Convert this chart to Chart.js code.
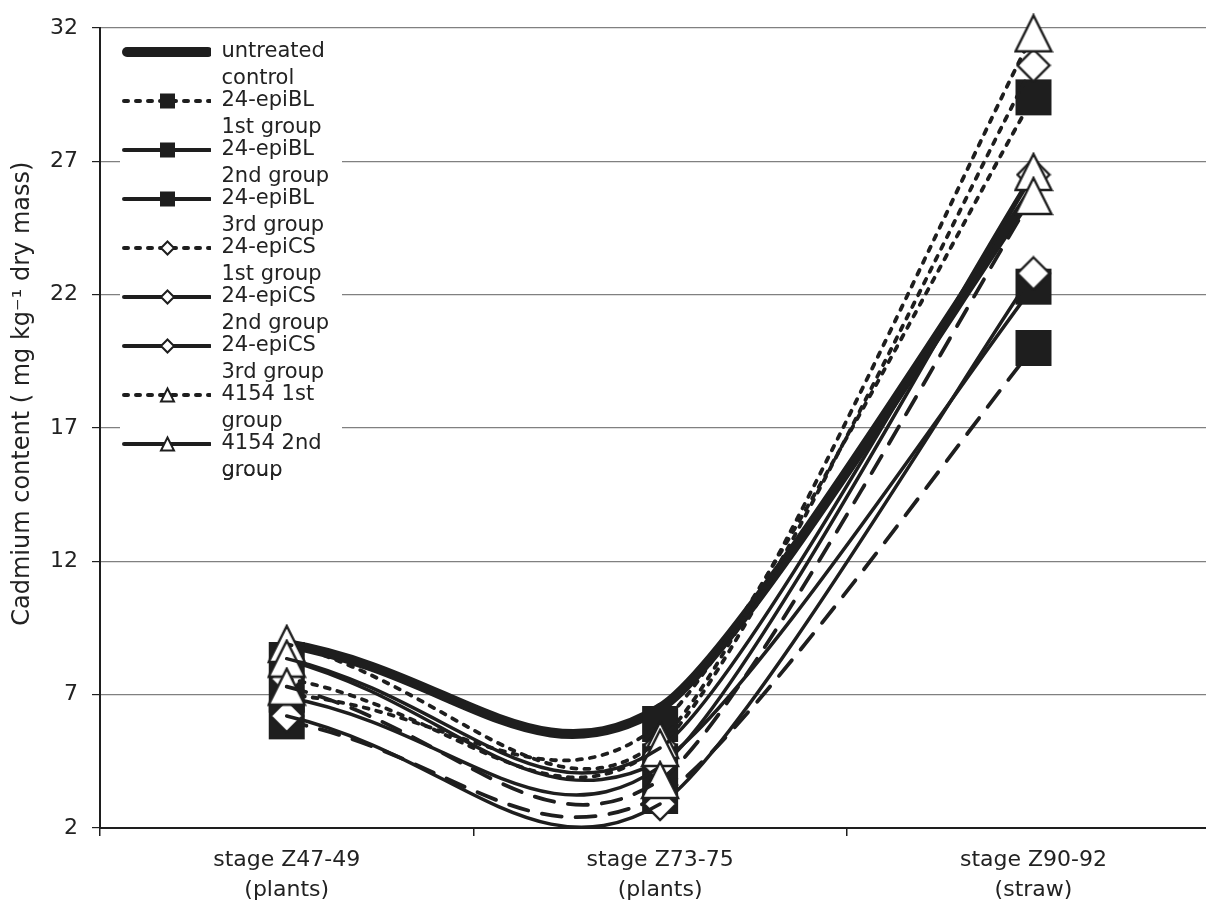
<!DOCTYPE html>
<html><head><meta charset="utf-8">
<script src="https://cdn.jsdelivr.net/npm/chart.js@4.4.1/dist/chart.umd.min.js"></script>
<style>
html,body{margin:0;padding:0;background:#fff;overflow:hidden;width:1206px;height:903px}
#wrap{width:1242px;height:903px;position:relative}
</style></head>
<body><div id="wrap"><canvas id="c" width="1242" height="903"></canvas></div>
<script>
// ---- data ----
const categories = [["stage Z47-49","(plants)"],["stage Z73-75","(plants)"],["stage Z90-92","(straw)"]];
const seriesNames = [
  ["untreated","control"],["24-epiBL","1st group"],["24-epiBL","2nd group"],["24-epiBL","3rd group"],
  ["24-epiCS","1st group"],["24-epiCS","2nd group"],["24-epiCS","3rd group"],
  ["4154 1st","group"],["4154 2nd","group"],["4154 3rd","group"]
];
const untreated = [8.9, 6.5, 25.9];
const epiBL1 = [7.0, 5.9, 29.4];
const epiBL2 = [8.3, 4.5, 22.3];
const epiBL3 = [6.0, 3.2, 20.0];
const epiCS1 = [7.6, 5.1, 30.6];
const epiCS2 = [6.9, 4.3, 26.5];
const epiCS3 = [6.2, 2.9, 22.8];
const g4154a = [8.9, 5.3, 31.8];
const g4154b = [8.35, 5.0, 26.6];
const g4154c = [7.3, 3.8, 25.7];
const yTicks = [2, 7, 12, 17, 22, 27, 32];
const yTitle = '         Cadmium content ( mg kg⁻¹ dry mass)';
const legendCount = 9; // legend in the original is cut after the 9th entry

// ---- styles ----
const seriesValues = [untreated, epiBL1, epiBL2, epiBL3, epiCS1, epiCS2, epiCS3, g4154a, g4154b, g4154c];
const seriesLine = ['thick','short','solid','long','short','solid','solid','short','solid','long'];
const seriesMarker = [null,'square','square','square','diamond','diamond','diamond','triangle','triangle','triangle'];
const legendLine = ['thick','short','solid','solid','short','solid','solid','short','solid','solid'];
const INK = '#1e1e1e';
const FONT = "'DejaVu Sans', sans-serif";
const TENSION_LEFT = 0.45;   // smoothing used on the first span
const TENSION_RIGHT = 0.16;  // smoothing used on the second span
const lineStyles = {
  thick: {w: 10, dash: []},
  solid: {w: 3.5, dash: []},
  short: {w: 3.8, dash: [5, 8]},
  long:  {w: 3.8, dash: [20, 14]}
};

function drawMarker(ctx, kind, cx, cy, s, lw) {
  ctx.beginPath();
  if (kind === 'square') {
    ctx.fillStyle = INK;
    ctx.fillRect(cx - s/2, cy - s/2, s, s);
    return;
  }
  if (kind === 'diamond') {
    ctx.moveTo(cx, cy - s/2); ctx.lineTo(cx + s/2, cy); ctx.lineTo(cx, cy + s/2); ctx.lineTo(cx - s/2, cy);
  } else if (kind === 'triangle') {
    ctx.moveTo(cx, cy - s/2); ctx.lineTo(cx + s/2, cy + s/2); ctx.lineTo(cx - s/2, cy + s/2);
  }
  ctx.closePath();
  ctx.fillStyle = '#fff'; ctx.fill();
  ctx.lineWidth = lw; ctx.strokeStyle = INK; ctx.lineJoin = 'miter'; ctx.stroke();
}
function markerCanvas(kind) {
  const size = kind === 'square' ? 36 : (kind === 'diamond' ? 32 : 36);
  const c = document.createElement('canvas');
  c.width = size + 4; c.height = size + 4;
  drawMarker(c.getContext('2d'), kind, c.width/2, c.height/2, size, 2.4);
  return c;
}
const ICON_W = 116;
function legendIcon(i) {
  const c = document.createElement('canvas');
  c.width = ICON_W; c.height = 18;
  const ctx = c.getContext('2d');
  const thick = legendLine[i] === 'thick';
  ctx.strokeStyle = INK; ctx.lineWidth = thick ? 10 : 4; ctx.lineCap = 'round';
  ctx.setLineDash(legendLine[i] === 'short' ? [4, 8] : []);
  ctx.beginPath(); ctx.moveTo(thick ? 32 : 29, 9); ctx.lineTo(thick ? 113 : 115, 9); ctx.stroke();
  ctx.setLineDash([]);
  if (seriesMarker[i]) {
    const s = seriesMarker[i] === 'square' ? 15 : 13;
    drawMarker(ctx, seriesMarker[i], 72.5, 9, s, 2);
  }
  return c;
}

// each series is drawn as two passes over the same 3 points: one pass shows the
// first span (higher smoothing), the other shows the second span plus the markers.
const datasets = [];
seriesValues.forEach((vals, i) => {
  const st = lineStyles[seriesLine[i]];
  const mk = seriesMarker[i];
  const base = {
    label: seriesNames[i].join(' '),
    data: vals,
    borderColor: INK,
    backgroundColor: INK,
    borderWidth: st.w,
    borderDash: st.dash,
    borderCapStyle: 'round',
    borderJoinStyle: 'round',
    capBezierPoints: false,
    fill: false,
    clip: false,
    order: seriesValues.length - i
  };
  datasets.push(Object.assign({}, base, {
    tension: TENSION_LEFT,
    pointRadius: 0, pointHoverRadius: 0, pointStyle: false,
    segment: { borderColor: c => c.p0DataIndex === 0 ? INK : 'rgba(0,0,0,0)' }
  }));
  datasets.push(Object.assign({}, base, {
    tension: TENSION_RIGHT,
    pointStyle: mk ? markerCanvas(mk) : false,
    pointRadius: mk ? 18 : 0,
    pointHoverRadius: mk ? 18 : 0,
    segment: { borderColor: c => c.p0DataIndex === 1 ? INK : 'rgba(0,0,0,0)' }
  }));
});

const legendBg = {
  id: 'legendBg',
  beforeDatasetsDraw(chart) {
    const lg = chart.legend;
    if (!lg) return;
    const a = chart.chartArea;
    const ctx = chart.ctx;
    ctx.save();
    ctx.fillStyle = '#fff';
    ctx.fillRect(a.left + 20, a.top + 2, 222, 442);
    ctx.restore();
    lg.draw(a);
  }
};

new Chart(document.getElementById('c'), {
  type: 'line',
  data: { labels: categories, datasets },
  plugins: [legendBg],
  options: {
    responsive: false,
    animation: false,
    devicePixelRatio: 1,
    layout: { padding: { top: 28, right: 11, left: 0, bottom: 0 } },
    plugins: {
      tooltip: { enabled: false },
      legend: {
        position: 'chartArea',
        align: 'start',
        title: { display: true, text: ' ', font: { size: 1, lineHeight: 1 }, padding: { top: 45.5, bottom: 0 } },
        labels: {
          usePointStyle: true,
          pointStyleWidth: ICON_W,
          boxHeight: 18,
          padding: -5,
          color: '#222',
          font: { family: FONT, size: 21, lineHeight: '27px' },
          generateLabels: () => seriesNames.slice(0, legendCount).map((t, i) => ({
            text: t, pointStyle: legendIcon(i), datasetIndex: i * 2 + 1, hidden: false,
            fontColor: '#222', lineWidth: 0, strokeStyle: 'rgba(0,0,0,0)', fillStyle: 'rgba(0,0,0,0)'
          }))
        }
      }
    },
    scales: {
      x: {
        type: 'category',
        offset: true,
        grid: { offset: true, drawOnChartArea: false, drawTicks: true, tickLength: 8, tickColor: INK, lineWidth: 1.5 },
        border: { color: INK, width: 2 },
        ticks: { color: '#222', padding: 9, maxRotation: 0, font: { family: FONT, size: 22, lineHeight: 1.36 } },
        afterFit: s => { s.height = 75; s.paddingLeft = 0; s.paddingRight = 0; }
      },
      y: {
        min: 2, max: 32,
        afterBuildTicks: s => { s.ticks = yTicks.map(v => ({ value: v })); },
        grid: { color: '#808080', lineWidth: 1.2, drawTicks: true, tickLength: 8, tickColor: INK },
        border: { color: INK, width: 2 },
        ticks: { color: '#222', padding: 14, font: { family: FONT, size: 22 } },
        title: { display: true, text: yTitle, color: '#222',
                 font: { family: FONT, size: 24, lineHeight: 1.2 }, padding: { top: 8, bottom: 0 } },
        afterFit: s => { s.width = 100; }
      }
    }
  }
});
</script>
</body></html>
